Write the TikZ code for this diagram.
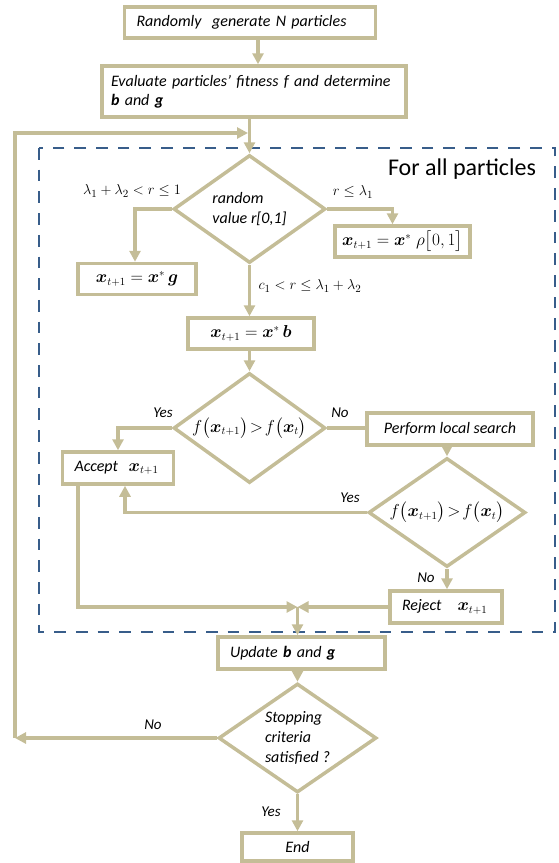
\documentclass[tikz,border=0pt]{standalone}
\usepackage{fontspec}
\setmainfont{Carlito}
\usepackage{amsmath,bm}
\usepackage{tikz}
\usetikzlibrary{arrows.meta}
\usetikzlibrary{shapes.geometric}

\definecolor{flowtan}{RGB}{196,189,151}
\definecolor{flowblue}{RGB}{56,93,138}

\begin{document}
\begin{tikzpicture}[x=1pt,y=-1pt,>={Triangle[length=11pt,width=11pt]},
	flow/.style={draw=flowtan,line width=3.5pt},
	box/.style={flow,rectangle,inner xsep=12pt,inner ysep=0pt,minimum height=31pt,align=center,font=\fontsize{16}{19}\selectfont\itshape},
	decision/.style={flow,diamond,aspect=1.4,inner sep=0pt,align=left,font=\fontsize{16}{20}\selectfont\itshape},
	cond/.style={inner sep=0pt,font=\fontsize{15}{17}\selectfont\itshape},
	frame/.style={draw=flowblue,line width=2.8pt,dash pattern=on 11.7pt off 10pt}]
	\useasboundingbox (0,0) rectangle (558,863);

	\draw[frame] (39,148) rectangle (555,632);
	\node[font=\fontsize{24}{28}\selectfont] (forall) at (462,169) {For all particles};

	\node[box,text width=227pt,align=left] (start) at (250,22.5) {Randomly\ \ generate N particles};
	\node[box,text width=286pt,inner xsep=9pt,align=left,minimum height=51pt] (eval) at (254,91.5) {Evaluate particles’ fitness \textit{f} and determine\\\textbf{b} and \textbf{g}};

	\node[decision,minimum width=152pt,minimum height=108pt] (d1) at (249.5,209) {random\\value r[0,1]};
	\node[box,minimum width=118pt] (gbox) at (137,279) {$\bm{x}_{t+1}=\bm{x}^{*}\,\bm{g}$};
	\node[box,minimum width=135pt,inner xsep=4pt] (rho) at (402.5,241.5) {$\bm{x}_{t+1}=\bm{x}^{*}\;\rho\big[0,1\big]$};
	\node[box,minimum width=126pt] (bbox) at (251,333.5) {$\bm{x}_{t+1}=\bm{x}^{*}\,\bm{b}$};

	\node[decision,minimum width=152pt,minimum height=110pt] (d2) at (249.5,428) {$f\big(\bm{x}_{t+1}\big)\!>\!f\big(\bm{x}_{t}\big)$};
	\node[box,text width=87pt,align=left,minimum height=32pt] (acc) at (118,468) {Accept\ \ $\bm{x}_{t+1}$};
	\node[box,minimum width=166pt,minimum height=32pt] (perf) at (450,429) {Perform local search};
	\node[decision,minimum width=157pt,minimum height=109pt] (d3) at (447,512.5) {$f\big(\bm{x}_{t+1}\big)\!>\!f\big(\bm{x}_{t}\big)$};
	\node[box,text width=88pt,align=left,minimum height=32pt] (rej) at (446,607) {Reject\quad$\bm{x}_{t+1}$};

	\node[box,text width=143pt,align=left,minimum height=32pt] (upd) at (301.5,653) {Update \textbf{b} and \textbf{g}};
	\node[decision,minimum width=158pt,minimum height=109pt] (d4) at (297.5,738) {Stopping\\criteria\\satisfied ?};
	\node[box,minimum width=111pt,minimum height=28pt] (end) at (297.5,847) {End};

	\node[cond] (lamlab) at (132,191) {$\lambda_1+\lambda_2<r\le 1$};
	\node[cond] (rlelab) at (353,192) {$r\le\lambda_1$};
	\node[cond] (c1lab) at (310,286) {$c_1<r\le\lambda_1+\lambda_2$};
	\node[cond] (yes1) at (163,413) {Yes};
	\node[cond] (no1) at (340,413) {No};
	\node[cond] (yes2) at (350,498) {Yes};
	\node[cond] (no2) at (426,578) {No};
	\node[cond] (no3) at (153,725) {No};
	\node[cond] (yes3) at (271,812) {Yes};

	\coordinate (back) at (15,738);
	\coordinate (top) at (15,133);
	\coordinate (merge) at (248,133);
	\coordinate (join) at (297.5,607);

	\draw[flow,->] ([xshift=8pt]start.south) -- ([xshift=8pt]start.south |- eval.north);
	\draw[flow,->] (d1.north |- eval.south) -- (d1.north);
	\draw[flow,->] (back) -- (top) -- (merge);
	\draw[flow,->] (d1.west) -| ([xshift=-2pt]gbox.north);
	\draw[flow,->] (d1.east) -| ([xshift=-10pt]rho.north);
	\draw[flow,->] (d1.south) -- (d1.south |- bbox.north);
	\draw[flow,->] (bbox.south -| d2.north) -- (d2.north);
	\draw[flow,->] (d2.west) -| (acc.north);
	\draw[flow] (d2.east) -- (d2.east -| perf.west);
	\draw[flow,->] (perf.south -| d3.north) -- (d3.north);
	\draw[flow,->] (d3.west) -| ([xshift=7pt]acc.south);
	\draw[flow,->] (d3.south) -- (d3.south |- rej.north);
	\draw[flow,->] ([xshift=-40pt]acc.south) |- (join);
	\draw[flow,->] (rej.west) -- (join);
	\draw[flow,->] (join) -- (join |- upd.north);
	\draw[flow,->] (upd.south -| d4.north) -- (d4.north);
	\draw[flow,->] (d4.west) -- (back);
	\draw[flow,->] (d4.south) -- (end.north);
\end{tikzpicture}
\end{document}
